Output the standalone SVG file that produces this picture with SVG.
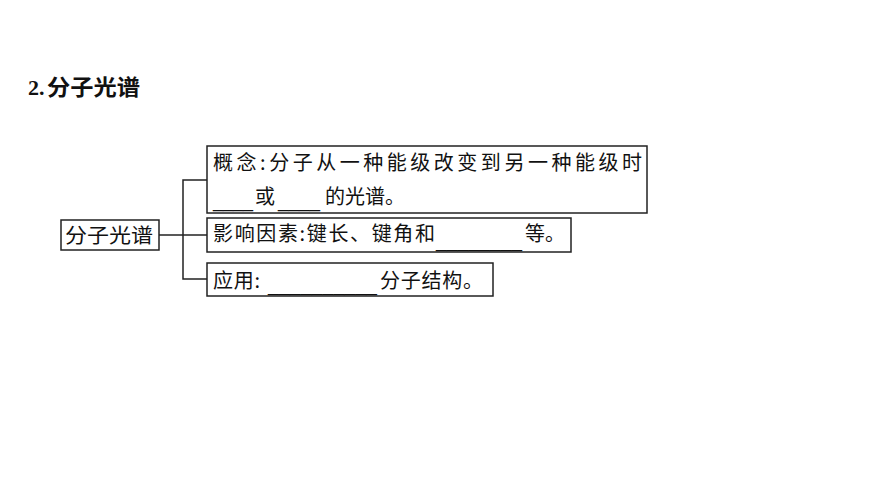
<svg xmlns="http://www.w3.org/2000/svg" width="870" height="489" viewBox="0 0 870 489">
<style>
.t{font-family:"Noto Sans CJK SC","Liberation Sans",sans-serif;font-size:20px;fill:#111}
.u{font-family:"Liberation Sans",sans-serif;font-size:20px;fill:#111}
.box{fill:#fff;stroke:#222;stroke-width:1.5}
.c{stroke:#222;stroke-width:1.5;fill:none}
</style>
<rect width="870" height="489" fill="#fff"/>
<g id="title">
<text x="28" y="95" style="font-family:'Liberation Serif',serif;font-size:22px;font-weight:bold;fill:#111">2.</text>
<text x="47" y="95" class="t" style="font-size:22px;font-weight:bold" textLength="93" lengthAdjust="spacingAndGlyphs">分子光谱</text>
</g>
<g id="connectors">
<path class="c" d="M159,235 H207"/>
<path class="c" d="M207,180 H183 V279 H207"/>
</g>
<g id="root">
<rect class="box" x="61" y="220" width="98" height="30"/>
<text x="65" y="243" class="t" textLength="88" lengthAdjust="spacingAndGlyphs">分子光谱</text>
</g>
<g id="concept">
<rect class="box" x="207" y="146" width="440" height="67"/>
<text x="213" y="170" class="t" textLength="429" lengthAdjust="spacing">概念:分子从一种能级改变到另一种能级时</text>
<text x="213" y="207" class="u" textLength="40" lengthAdjust="spacingAndGlyphs">____</text>
<text x="255" y="204" class="t">或</text>
<text x="278" y="207" class="u" textLength="42" lengthAdjust="spacingAndGlyphs">____</text>
<text x="325" y="204" class="t" textLength="80" lengthAdjust="spacing">的光谱。</text>
</g>
<g id="factors">
<rect class="box" x="207" y="218" width="364" height="34"/>
<text x="213" y="241" class="t" textLength="222" lengthAdjust="spacing">影响因素:键长、键角和</text>
<text x="436" y="247" class="u" textLength="86" lengthAdjust="spacingAndGlyphs">________</text>
<text x="525" y="241" class="t">等。</text>
</g>
<g id="application">
<rect class="box" x="207" y="263" width="286" height="33"/>
<text x="213" y="288" class="t" textLength="47" lengthAdjust="spacing">应用:</text>
<text x="268" y="291" class="u" textLength="109" lengthAdjust="spacingAndGlyphs">__________</text>
<text x="380" y="288" class="t" textLength="103" lengthAdjust="spacing">分子结构。</text>
</g>
</svg>
